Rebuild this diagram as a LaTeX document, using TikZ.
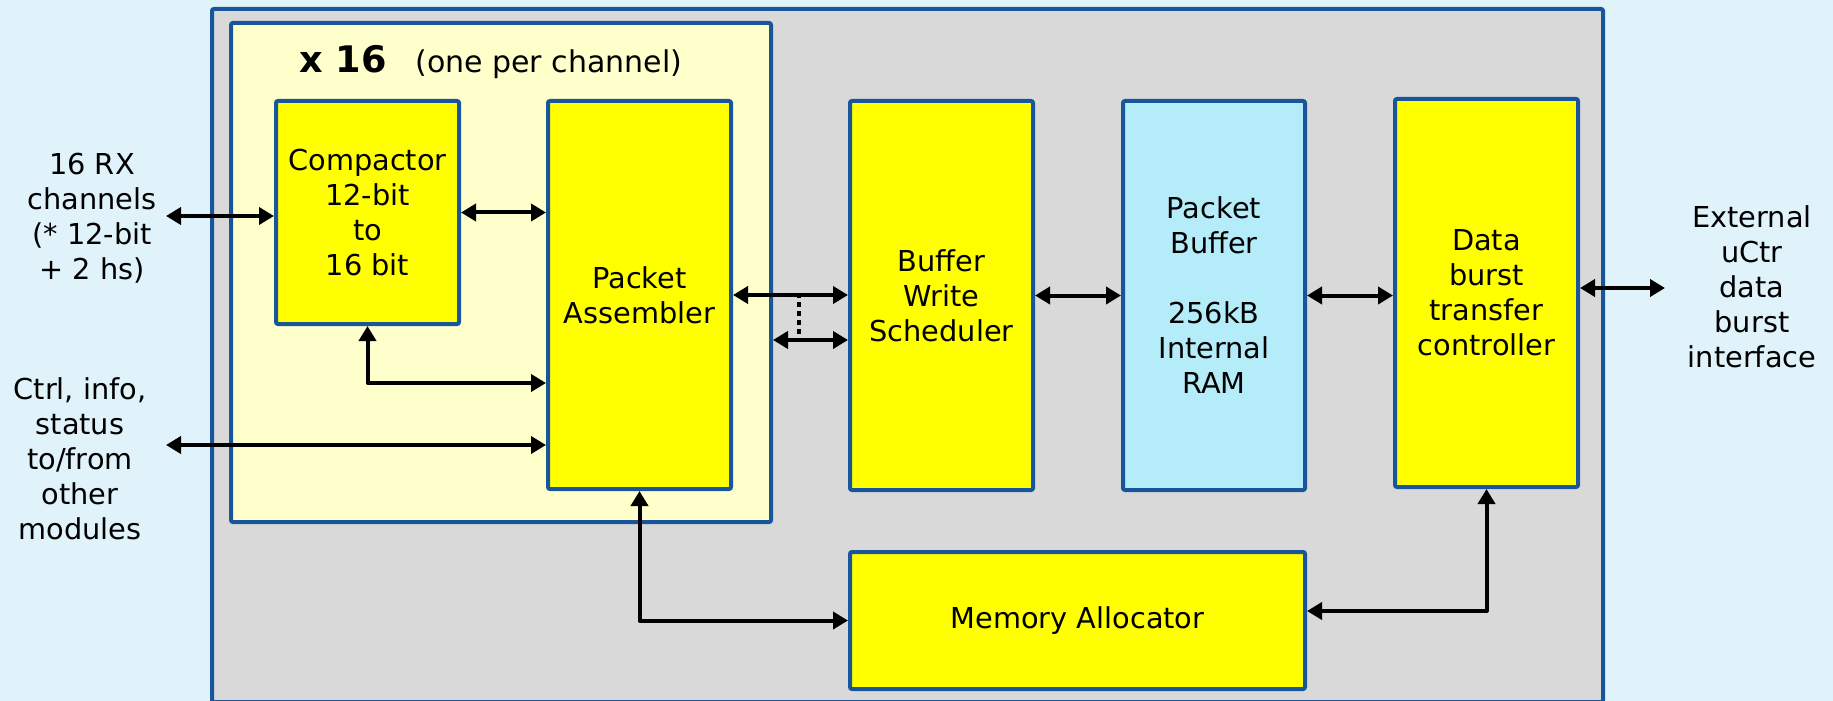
\documentclass[tikz,border=0pt]{standalone}
\usepackage{fontspec}
\setmainfont{DejaVu Sans}
\usetikzlibrary{arrows.meta,calc}
\definecolor{bgblue}{HTML}{E0F3FA}
\definecolor{outergray}{HTML}{D9D9D9}
\definecolor{creamy}{HTML}{FFFFCC}
\definecolor{yel}{HTML}{FFFF00}
\definecolor{ltblue}{HTML}{B5ECFA}
\definecolor{bordblue}{HTML}{18559A}
\newcommand\boxfont{\fontsize{14.4}{17.5}\selectfont}
\begin{document}
\begin{tikzpicture}[x=0.5pt,y=-0.5pt,
  box/.style={draw=bordblue, line width=2pt, rounded corners=1pt, align=center,
    font=\boxfont, inner sep=0pt, anchor=north west},
  lbl/.style={align=center, font=\boxfont, inner sep=0pt},
  arr/.style={line width=2pt, line join=round,
    {Triangle[length=7.5pt,width=8.5pt]}-{Triangle[length=7.5pt,width=8.5pt]}},
  dotline/.style={line width=1.8pt, dash pattern=on 2.5pt off 2pt}]
\useasboundingbox (0,0) rectangle (1833,701);
\fill[bgblue] (0,0) rectangle (1833,701);

\node[box, fill=outergray, minimum width=695.5pt, minimum height=346.5pt] (outer) at (210,7) {};
\node[box, fill=creamy, minimum width=270pt, minimum height=249.5pt] (cream) at (229,21) {};
\node[box, fill=yel, minimum width=91.5pt, minimum height=111.5pt] (comp) at (274,99) {Compactor\\12-bit\\to\\16 bit};
\node[box, fill=yel, minimum width=91.5pt, minimum height=194pt] (pa) at (546,99) {Packet\\Assembler};
\node[box, fill=yel, minimum width=91.5pt, minimum height=194.5pt] (bws) at (848,99) {Buffer\\Write\\Scheduler};
\node[box, fill=ltblue, minimum width=91pt, minimum height=194.5pt] (pb) at (1121,99) {Packet\\Buffer\\[17.5pt]256kB\\Internal\\RAM};
\node[box, fill=yel, minimum width=91.5pt, minimum height=194pt] (dbtc) at (1393,97) {Data\\burst\\transfer\\controller};
\node[box, fill=yel, minimum width=227.5pt, minimum height=68.5pt] (ma) at (848,550) {Memory Allocator};

\node[anchor=base west, inner sep=0pt, font=\fontsize{18.3}{20}\selectfont\bfseries] (t1) at (299,73) {x 16};
\node[anchor=base west, inner sep=0pt, font=\fontsize{15}{18}\selectfont] (t2) at (415,73) {(one per channel)};

\node[lbl] (rx) at (92,218) {16 RX\\channels\\(* 12-bit\\+ 2 hs)};
\node[lbl] (ctrl) at (80,459) {Ctrl, info,\\status\\to/from\\other\\modules};
\node[lbl] (ext) at (1752,287) {External\\uCtr\\data\\burst\\interface};

\coordinate (rxp) at (166,216);
\coordinate (c383) at (0,383);
\coordinate (ctrlp) at (166,445);
\coordinate (low) at (0,340);
\coordinate (dtop) at (799,293);
\coordinate (dbot) at (799,340);
\coordinate (extp) at (1665,288);
\coordinate (c611) at (0,611);

\draw[arr] (rxp) -- (rxp -| comp.west);
\draw[arr] (comp.east) -- (comp.east -| pa.west);
\draw[arr] (comp.south) |- (pa.west |- c383);
\draw[arr] (ctrlp) -- (ctrlp -| pa.west);
\draw[arr] (pa.east) -- (pa.east -| bws.west);
\draw[arr] (cream.east |- low) -- (bws.west |- low);
\draw[dotline] (dtop) -- (dbot);
\draw[arr] (bws.east) -- (bws.east -| pb.west);
\draw[arr] (pb.east) -- (pb.east -| dbtc.west);
\draw[arr] (dbtc.east |- extp) -- (extp);
\draw[arr] (pa.south) |- (ma.west);
\draw[arr] (ma.east |- c611) -| (dbtc.south);
\end{tikzpicture}
\end{document}
